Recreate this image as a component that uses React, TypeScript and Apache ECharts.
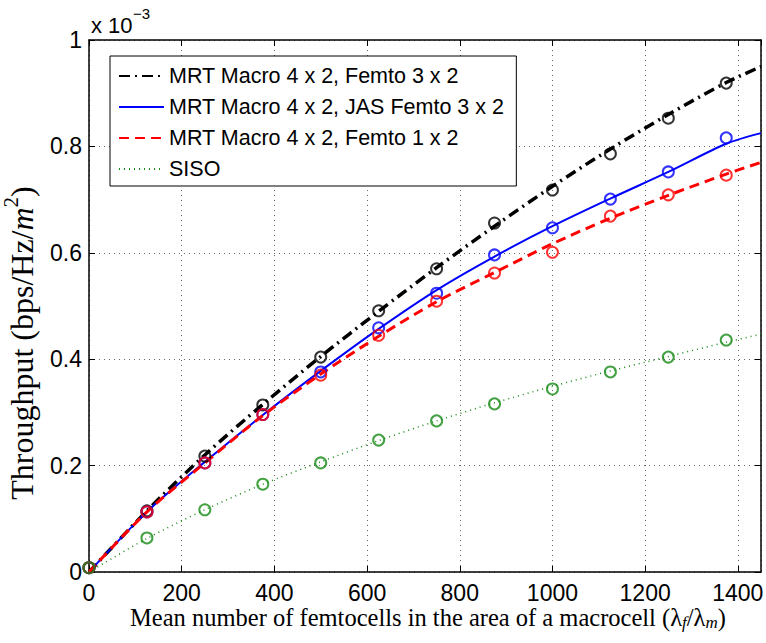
import React, { useEffect, useRef } from "react";
import * as echarts from "echarts";

const markerX = [0, 125, 250, 375, 500, 625, 750, 875, 1000, 1125, 1250, 1375];
const lineX = [0, 125, 250, 375, 500, 625, 750, 875, 1000, 1125, 1250, 1375, 1450];

const names = [
  "MRT Macro 4 x 2, Femto 3 x 2",
  "MRT Macro 4 x 2, JAS Femto 3 x 2",
  "MRT Macro 4 x 2, Femto 1 x 2",
  "SISO",
];
const colors = ["#000000", "#0000ff", "#ff0000", "#158a15"];

// line (analytical) values, x 1e-3
const lineBlack = [0, 0.115, 0.22, 0.315, 0.405, 0.49, 0.572, 0.65, 0.725, 0.795, 0.86, 0.92, 0.95];
const lineBlue = [0, 0.113, 0.207, 0.295, 0.378, 0.457, 0.53, 0.593, 0.65, 0.702, 0.752, 0.805, 0.825];
const lineRed = [0, 0.113, 0.205, 0.294, 0.372, 0.443, 0.508, 0.563, 0.617, 0.665, 0.708, 0.748, 0.77];
const lineGreen = [0, 0.063, 0.117, 0.165, 0.207, 0.247, 0.284, 0.318, 0.349, 0.378, 0.405, 0.432, 0.447];

// simulation markers, x 1e-3
const markBlack = [0.008, 0.115, 0.218, 0.314, 0.404, 0.491, 0.57, 0.656, 0.718, 0.786, 0.853, 0.919];
const markBlue = [0.008, 0.113, 0.205, 0.296, 0.376, 0.459, 0.524, 0.596, 0.647, 0.701, 0.752, 0.816];
const markRed = [0.008, 0.113, 0.205, 0.296, 0.37, 0.445, 0.509, 0.562, 0.601, 0.669, 0.709, 0.746];
const markGreen = [0.008, 0.064, 0.117, 0.165, 0.205, 0.248, 0.284, 0.316, 0.344, 0.376, 0.404, 0.436];

const yTicks = [0, 0.2, 0.4, 0.6, 0.8, 1];

const lines = [lineBlack, lineBlue, lineRed, lineGreen];
const marks = [markBlack, markBlue, markRed, markGreen];
const lineStyles: any[] = [
  { type: [11, 5, 2, 5], width: 3.5 },
  { type: "solid", width: 2 },
  { type: [10, 6], width: 3 },
  { type: [1, 4], width: 1.5 },
];

const serif = "Liberation Serif";

export default function App() {
  const ref = useRef<HTMLDivElement>(null);
  useEffect(() => {
    if (!ref.current) return;
    const chart = echarts.init(ref.current, null, { renderer: "svg" });
    const series: any[] = [];
    lines.forEach((vals, i) => {
      series.push({
        name: names[i],
        type: "line",
        data: lineX.map((x, k) => [x, vals[k]]),
        smooth: 0.3,
        symbol: "none",
        lineStyle: { color: colors[i], ...lineStyles[i] },
        itemStyle: { color: colors[i] },
        z: 3,
      });
    });
    marks.forEach((vals, i) => {
      series.push({
        name: names[i] + " sim",
        type: "scatter",
        data: markerX.map((x, k) => [x, vals[k]]),
        symbol: "circle",
        symbolSize: 11,
        itemStyle: { color: "rgba(0,0,0,0)", borderColor: colors[i], borderWidth: 2 },
        z: 4,
      });
    });
    const tickFont = { fontFamily: "Liberation Sans", fontSize: 23, color: "#000" };
    const frameAxis = {
      axisLine: { show: true, onZero: false, lineStyle: { color: "#000", width: 1.5 } },
      axisTick: { show: true, inside: true, length: 6, lineStyle: { color: "#000" } },
    };
    chart.setOption({
      animation: false,
      backgroundColor: "#fff",
      grid: { left: 89, right: 5, top: 40, bottom: 71, outerBoundsMode: "none" },
      legend: {
        data: names,
        orient: "vertical",
        left: 110,
        top: 56,
        itemWidth: 45,
        itemHeight: 14,
        itemGap: 9,
        padding: [9, 12, 6, 8],
        borderColor: "#000",
        borderWidth: 1,
        backgroundColor: "#fff",
        itemStyle: { opacity: 0 },
        textStyle: { fontFamily: "Liberation Sans", fontSize: 21.5, color: "#000" },
      },
      xAxis: [
        {
          type: "value",
          min: 0,
          max: 1450,
          interval: 200,
          ...frameAxis,
          axisLabel: { ...tickFont, margin: 9, formatter: (v: number) => String(v) },
          splitLine: { show: true, lineStyle: { color: "#666", type: [1, 4], width: 1 } },
        },
        {
          type: "value",
          position: "top",
          min: 0,
          max: 1450,
          interval: 200,
          ...frameAxis,
          axisLabel: { show: false },
          splitLine: { show: false },
        },
      ],
      yAxis: [
        {
          type: "value",
          min: 0,
          max: 1,
          interval: 0.2,
          ...frameAxis,
          axisLabel: {
            ...tickFont,
            margin: 7,
            formatter: (v: number) => {
              const t = yTicks.find((y) => Math.abs(y - v) < 1e-6);
              return t === undefined ? "" : String(t);
            },
          },
          splitLine: { show: true, lineStyle: { color: "#666", type: [1, 4], width: 1 } },
        },
        {
          type: "value",
          position: "right",
          min: 0,
          max: 1,
          interval: 0.2,
          ...frameAxis,
          axisLabel: { show: false },
          splitLine: { show: false },
        },
      ],
      graphic: [
        {
          type: "text",
          x: 91,
          y: 25,
          style: {
            text: "x 10",
            fontFamily: "Liberation Sans",
            fontSize: 22,
            fill: "#000",
            align: "left",
            verticalAlign: "middle",
          },
        },
        {
          type: "text",
          x: 133,
          y: 13,
          style: {
            text: "−3",
            fontFamily: "Liberation Sans",
            fontSize: 15,
            fill: "#000",
            align: "left",
            verticalAlign: "middle",
          },
        },
        {
          type: "text",
          x: 22,
          y: 343,
          rotation: Math.PI / 2,
          style: {
            text: "{a|Throughput (bps/Hz/}{i|m}{s|2}{a|)}",
            fontFamily: serif,
            align: "center",
            verticalAlign: "middle",
            rich: {
              a: { fontFamily: serif, fontSize: 32, fill: "#000" },
              i: { fontFamily: serif, fontSize: 32, fontStyle: "italic", fill: "#000" },
              s: { fontFamily: serif, fontSize: 21, fill: "#000", padding: [0, 0, 22, 0] },
            },
          },
        },
        {
          type: "text",
          x: 428,
          y: 617,
          style: {
            text: "{a|Mean number of femtocells in the area of a macrocell (λ}{s|f}{a|/λ}{s|m}{a|)}",
            fontFamily: serif,
            align: "center",
            verticalAlign: "middle",
            rich: {
              a: { fontFamily: serif, fontSize: 24.5, fill: "#000" },
              s: { fontFamily: serif, fontSize: 17, fontStyle: "italic", fill: "#000", padding: [10, 0, 0, 0] },
            },
          },
        },
      ],
      series,
    });
    return () => chart.dispose();
  }, []);
  return (
    <div
      ref={ref}
      style={{ position: "absolute", left: 0, top: 0, width: 766, height: 643 }}
    />
  );
}
